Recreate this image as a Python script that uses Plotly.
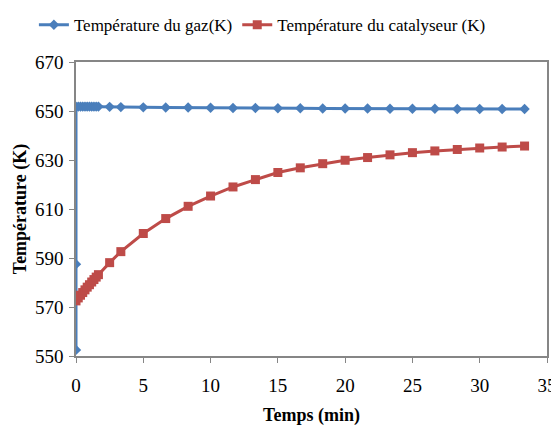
import plotly.graph_objects as go

# temps (min)
t_gaz = [0, 0, 0, 0.167, 0.333, 0.5, 0.667, 0.833, 1.0, 1.167, 1.333, 1.5, 1.667,
         2.5, 3.333, 5, 6.667, 8.333, 10, 11.667, 13.333, 15, 16.667, 18.333,
         20, 21.667, 23.333, 25, 26.667, 28.333, 30, 31.667, 33.333]
T_gaz = [552.5, 587.5, 651.8, 651.8, 651.8, 651.8, 651.8, 651.8, 651.8, 651.8, 651.8, 651.8, 651.8,
         651.7, 651.6, 651.5, 651.4, 651.4, 651.3, 651.2, 651.2, 651.1, 651.1, 651.0,
         651.0, 651.0, 650.9, 650.9, 650.9, 650.8, 650.8, 650.8, 650.8]

t_cat = [0, 0.167, 0.333, 0.5, 0.667, 0.833, 1.0, 1.167, 1.333, 1.5, 1.667,
         2.5, 3.333, 5, 6.667, 8.333, 10, 11.667, 13.333, 15, 16.667, 18.333,
         20, 21.667, 23.333, 25, 26.667, 28.333, 30, 31.667, 33.333]
T_cat = [572.5, 573.7, 574.8, 575.9, 577.0, 578.1, 579.1, 580.2, 581.2, 582.2, 583.2,
         588.1, 592.6, 600.0, 606.1, 611.1, 615.3, 619.0, 622.0, 624.9, 626.8, 628.5,
         629.9, 631.0, 632.1, 633.0, 633.7, 634.3, 634.9, 635.3, 635.7]

font = "Liberation Serif, Times New Roman, serif"

fig = go.Figure()
fig.add_trace(go.Scatter(
    x=t_gaz, y=T_gaz, mode="lines+markers", name="Température du gaz(K)",
    line=dict(color="#4A7EBB", width=3),
    marker=dict(symbol="diamond", size=8, color="#4A7EBB"),
))
fig.add_trace(go.Scatter(
    x=t_cat, y=T_cat, mode="lines+markers", name="Température du catalyseur (K)",
    line=dict(color="#BE4B48", width=3),
    marker=dict(symbol="square", size=9, color="#BE4B48"),
))

# page body has an 8px margin, so the figure is a bit smaller than the window
fig.update_layout(
    width=551, height=418,
    margin=dict(l=68, r=12, t=54, b=70, autoexpand=False),
    paper_bgcolor="white", plot_bgcolor="white",
    font=dict(family=font, size=19, color="black"),
    showlegend=True,
    legend=dict(orientation="h", xref="container", yref="container",
                x=0.047, y=0.959, xanchor="left", yanchor="middle",
                font=dict(size=17), itemwidth=30, tracegroupgap=0),
    xaxis=dict(
        range=[0, 35], tickvals=[0, 5, 10, 15, 20, 25, 30, 35],
        showgrid=False, zeroline=False, automargin=False,
        showline=True, linecolor="#868686", linewidth=1.5, mirror=True,
        ticks="outside", tickcolor="#868686", ticklen=5, ticklabelstandoff=6,
        ticklabeloverflow="allow",
        title=dict(text="<b>Temps (min)</b>", font=dict(size=18), standoff=20),
    ),
    yaxis=dict(
        range=[550, 670], tickvals=[550, 570, 590, 610, 630, 650, 670],
        showgrid=False, zeroline=False, automargin=False,
        showline=True, linecolor="#868686", linewidth=1.5, mirror=True,
        ticks="outside", tickcolor="#868686", ticklen=5, ticklabelstandoff=2,
        title=dict(text="<b>Température (K)</b>", font=dict(size=18), standoff=4),
    ),
)

fig.write_html("out.html")
